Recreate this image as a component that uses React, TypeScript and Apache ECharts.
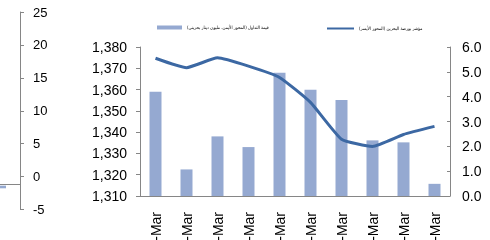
import React, { useEffect, useRef } from "react";
import * as echarts from "echarts";

const categories = ["1-Mar", "2-Mar", "5-Mar", "6-Mar", "7-Mar", "8-Mar", "9-Mar", "12-Mar", "13-Mar", "14-Mar"];
const tradingValue = [4.2, 1.07, 2.4, 1.97, 4.96, 4.28, 3.87, 2.24, 2.16, 0.49];
const indexValue = [1374.7, 1370.3, 1374.9, 1371.0, 1365.7, 1354.0, 1336.7, 1333.3, 1338.9, 1342.7];
const leftTicks = { min: 1310, max: 1380, interval: 10 };
const rightTicks = { min: 0, max: 6, interval: 1 };
const prevCategories = ["prev"];
const prevBase = [-1.38];
const prevValue = [-0.4];
const prevAxisLevel = -1.15;
const prevTicks = { min: -5, max: 25, interval: 5 };

const barName = "قيمة التداول (المحور الأيمن، مليون دينار بحريني)";
const lineName = "مؤشر بورصة البحرين (المحور الأيسر)";

const axisGrey = "#868686";

export default function App() {
  const ref = useRef<HTMLDivElement>(null);
  useEffect(() => {
    document.body.style.margin = "0";
    const chart = echarts.init(ref.current!, null, { renderer: "svg" });
    const labelFont = { fontFamily: "Liberation Sans, Arial, sans-serif", color: "#000" };
    const legendText = { fontSize: 4.5, fontFamily: "DejaVu Sans Condensed, DejaVu Sans", color: "#000" };
    chart.setOption({
      animation: false,
      legend: [
        {
          data: [{ name: barName, icon: "rect" }],
          left: 152,
          top: 20,
          itemWidth: 25,
          itemHeight: 4,
          textStyle: legendText,
          selectedMode: false,
        },
        {
          data: [{ name: lineName, icon: "rect" }],
          left: 322,
          top: 21,
          itemWidth: 27,
          itemHeight: 2,
          textStyle: legendText,
          selectedMode: false,
        },
      ],
      grid: [
        { left: 140, right: 40, top: 47, bottom: 44, outerBoundsMode: "none", containLabel: false },
        { left: -20, right: 470, top: 12, bottom: 30.5, outerBoundsMode: "none", containLabel: false },
      ],
      xAxis: [
        {
          type: "category",
          gridIndex: 0,
          data: categories,
          axisLine: { lineStyle: { color: axisGrey } },
          axisTick: { length: 4, lineStyle: { color: axisGrey } },
          axisLabel: { ...labelFont, fontSize: 14, rotate: 90, margin: 16, interval: 0 },
        },
        {
          type: "category",
          gridIndex: 1,
          data: prevCategories,
          axisLine: { show: false },
          axisTick: { show: false },
          axisLabel: { show: false },
        },
      ],
      yAxis: [
        {
          type: "value",
          gridIndex: 0,
          position: "left",
          ...leftTicks,
          splitLine: { show: false },
          axisLine: { show: true, lineStyle: { color: axisGrey } },
          axisTick: { show: true, length: 4, lineStyle: { color: axisGrey } },
          axisLabel: {
            ...labelFont,
            fontSize: 14,
            margin: 13,
            formatter: (v: number) => v.toLocaleString("en-US"),
          },
        },
        {
          type: "value",
          gridIndex: 0,
          position: "right",
          ...rightTicks,
          splitLine: { show: false },
          axisLine: { show: true, lineStyle: { color: axisGrey } },
          axisTick: { show: true, inside: true, length: 3, lineStyle: { color: axisGrey } },
          axisLabel: { ...labelFont, fontSize: 14, margin: 12, formatter: (v: number) => v.toFixed(1) },
        },
        {
          type: "value",
          gridIndex: 1,
          position: "right",
          ...prevTicks,
          splitLine: { show: false },
          axisLine: { show: true, lineStyle: { color: axisGrey } },
          axisTick: { show: true, length: 4, lineStyle: { color: axisGrey } },
          axisLabel: { ...labelFont, fontSize: 13, margin: 13 },
        },
      ],
      series: [
        {
          name: barName,
          type: "bar",
          xAxisIndex: 0,
          yAxisIndex: 1,
          data: tradingValue,
          barWidth: 12,
          itemStyle: { color: "#95A9D1" },
        },
        {
          name: lineName,
          type: "line",
          xAxisIndex: 0,
          yAxisIndex: 0,
          data: indexValue,
          smooth: 0.15,
          symbol: "none",
          lineStyle: { color: "#3C68A3", width: 3 },
          itemStyle: { color: "#3C68A3" },
          z: 5,
        },
        {
          name: "prevBase",
          type: "bar",
          xAxisIndex: 1,
          yAxisIndex: 2,
          stack: "prev",
          data: prevBase,
          barWidth: 12,
          itemStyle: { color: "transparent" },
          markLine: {
            silent: true,
            symbol: "none",
            label: { show: false },
            lineStyle: { color: axisGrey, type: "solid", width: 1 },
            data: [{ yAxis: prevAxisLevel }],
          },
        },
        {
          name: "prevValue",
          type: "bar",
          xAxisIndex: 1,
          yAxisIndex: 2,
          stack: "prev",
          data: prevValue,
          barWidth: 12,
          itemStyle: { color: "#95A9D1" },
        },
      ],
    });
    return () => chart.dispose();
  }, []);
  return <div ref={ref} style={{ position: "fixed", left: 0, top: 0, width: 490, height: 240 }} />;
}
